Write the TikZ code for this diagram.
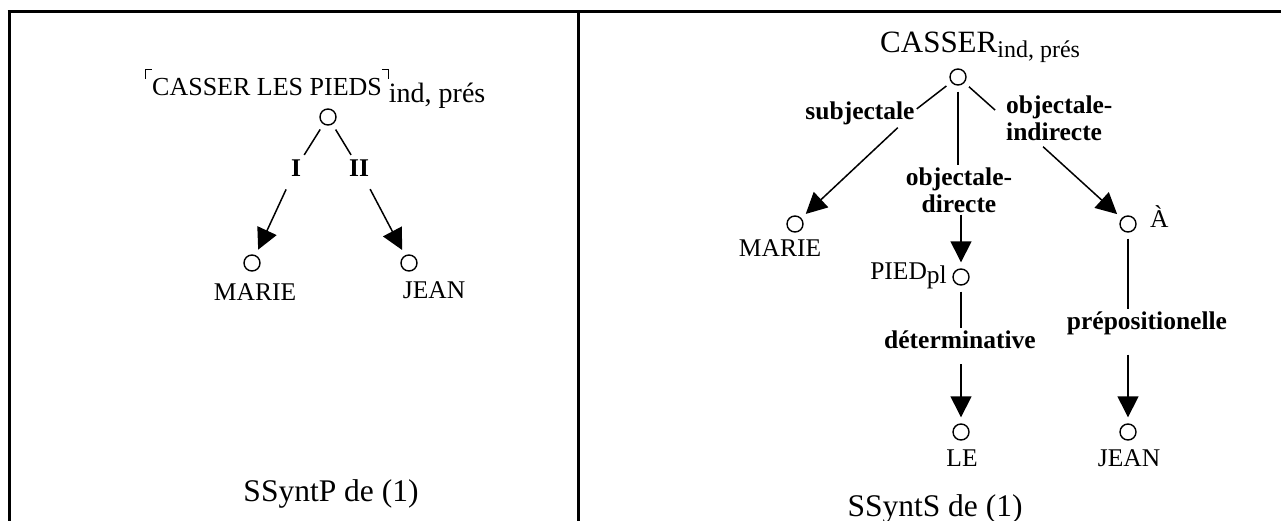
\documentclass[tikz,border=0pt]{standalone}
\usepackage{fontspec}
\setmainfont{Liberation Serif}
\usetikzlibrary{arrows.meta,calc}
\newcommand\quoteL{\rlap{\rule[17pt]{1pt}{10pt}}\rule[26pt]{7pt}{1pt}}
\newcommand\quoteR{\rule[26pt]{7pt}{1pt}\llap{\rule[17pt]{1pt}{10pt}}}
\tikzset{
  dot/.style={circle,draw,line width=1.4pt,minimum size=16pt,inner sep=0pt},
  lab/.style={font=\fontsize{25.5}{28}\selectfont,inner sep=0pt},
  rel/.style={font=\bfseries\fontsize{25.5}{27}\selectfont,inner sep=2pt},
  captiontext/.style={font=\fontsize{31.5}{34}\selectfont,inner sep=0pt},
  link/.style={line width=1.5pt,shorten <=6pt},
  arr/.style={line width=1.5pt,shorten >=6pt,-{Triangle[length=21pt,width=21pt]}},
  frame/.style={line width=3pt}
}
\begin{document}
\begin{tikzpicture}[x=1pt,y=-1pt]
\useasboundingbox (0,0) rectangle (1281,521);
\draw[frame] (7.5,12) -- (1281,12);
\draw[frame] (9,12) -- (9,521);
\draw[frame] (578,12) -- (578,521);

% left panel
\node[lab,anchor=base west,font=\fontsize{26}{28}\selectfont] (t1) at (145,96)
  {\quoteL CASSER LES PIEDS\quoteR\raisebox{-7pt}{\fontsize{28}{30}\selectfont ind, prés}};
\node[dot] (r1) at (328,117) {};
\node[rel] (lI) at (296,168) {I};
\node[rel] (lII) at (359,168) {II};
\node[dot] (m1) at (252,263) {};
\node[dot] (j1) at (409,263) {};
\node[lab,anchor=base] (tm1) at (255,300) {MARIE};
\node[lab,anchor=base] (tj1) at (434,298) {JEAN};
\node[captiontext,anchor=base] (c1) at (331,501) {SSyntP de (1)};
\draw[link,shorten >=3pt] (r1) -- (lI);
\draw[link,shorten >=3pt] (r1) -- (lII);
\draw[arr,shorten <=12pt] (lI) -- (m1);
\draw[arr,shorten <=12pt] (lII) -- (j1);

% right panel
\node[lab,anchor=base west,font=\fontsize{31}{33}\selectfont] (t2) at (880,53)
  {CASSER\raisebox{-5pt}{\fontsize{24}{28}\selectfont ind, prés}};
\node[dot] (r2) at (958,77) {};
\node[rel,anchor=base] (lsub) at (860,120) {subjectale};
\node[dot] (m2) at (795,224) {};
\node[lab,anchor=base] (tm2) at (780,257) {MARIE};
\node[rel,align=center] (lod) at (959,190) {objectale-\\directe};
\node[dot] (p) at (961,277) {};
\node[lab,anchor=base east] (tp) at (947,279) {PIED\raisebox{-5pt}{pl}};
\node[rel,anchor=base] (ldet) at (960,348) {déterminative};
\node[dot] (le) at (961,432) {};
\node[lab,anchor=base] (tle) at (962,466) {LE};
\node[rel,align=left,anchor=west] (loi) at (1004,118) {objectale-\\indirecte};
\node[dot] (a) at (1128,224) {};
\node[lab,anchor=base west] (ta) at (1150,228) {À};
\node[rel,anchor=base] (lprep) at (1147,329) {prépositionelle};
\node[dot] (j2) at (1128,432) {};
\node[lab,anchor=base] (tj2) at (1129,466) {JEAN};
\node[captiontext,anchor=base] (c2) at (935,516) {SSyntS de (1)};

\draw[link] (r2) -- (lsub.5);
\draw[arr] (lsub.-20) -- (m2);
\draw[link] (r2) -- (r2 |- lod.north);
\draw[arr] (lod.south -| p) -- (p);
\draw[link] (p) -- (p |- ldet.north);
\draw[arr,shorten <=14pt] (ldet.south -| le) -- (le);
\draw[link,shorten >=12pt] (r2) -- (loi.west);
\draw[arr,shorten <=6pt] (loi.-130) -- (a);
\draw[link] (a) -- (a |- lprep.north);
\draw[arr,shorten <=18pt] (lprep.south -| j2) -- (j2);
\end{tikzpicture}
\end{document}
